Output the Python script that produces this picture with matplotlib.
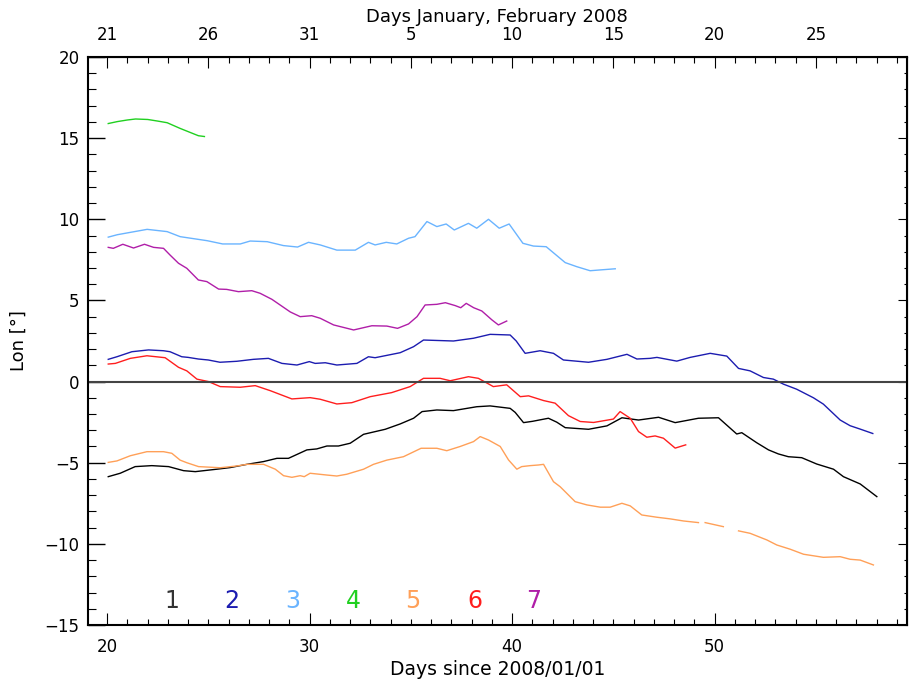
import numpy as np
import matplotlib
matplotlib.use("Agg")
import matplotlib.pyplot as plt
from matplotlib.ticker import MultipleLocator

nan = np.nan

# --- data (day since 2008/01/01, longitude in degrees) ---
x1 = [20.05, 20.64, 21.38, 22.2, 23.03, 23.77, 24.35, 25.41, 26.07, 26.9, 27.72, 28.38,
      28.95, 29.86, 30.35, 30.85, 31.42, 32.0, 32.66, 33.73, 34.47, 35.13, 35.55, 36.28,
      37.1, 38.25, 38.91, 39.9, 40.15, 40.56, 41.0, 41.79, 42.2, 42.62, 43.77, 44.68,
      45.42, 46.24, 47.23, 48.05, 49.2, 50.19, 51.09, 51.34, 52.08, 52.66, 53.15, 53.64,
      54.3, 55.04, 55.87, 56.36, 57.19, 58.01]
y1 = [-5.86, -5.65, -5.24, -5.18, -5.24, -5.49, -5.55, -5.4, -5.3, -5.1, -4.93, -4.73,
      -4.73, -4.21, -4.15, -3.97, -3.97, -3.8, -3.25, -2.94, -2.61, -2.26, -1.85, -1.75,
      -1.79, -1.55, -1.5, -1.65, -1.9, -2.53, -2.45, -2.26, -2.5, -2.84, -2.94, -2.73,
      -2.23, -2.37, -2.2, -2.53, -2.26, -2.23, -3.23, -3.15, -3.77, -4.21, -4.46, -4.63,
      -4.69, -5.08, -5.4, -5.86, -6.31, -7.09]

x2 = [20.05, 20.48, 21.22, 22.04, 22.78, 23.1, 23.68, 24.0, 24.5, 24.99, 25.57, 26.4,
      27.22, 27.96, 28.63, 29.37, 29.98, 30.27, 30.77, 31.34, 32.33, 32.9, 33.23, 34.47,
      35.13, 35.62, 37.1, 38.09, 38.91, 39.9, 40.2, 40.64, 41.38, 42.04, 42.53, 43.77,
      44.68, 45.67, 46.16, 46.81, 47.15, 48.13, 48.79, 49.78, 50.6, 51.18, 51.75, 52.41,
      52.9, 53.4, 54.05, 54.88, 55.37, 56.2, 56.69, 57.19, 57.81]
y2 = [1.37, 1.53, 1.84, 1.95, 1.9, 1.84, 1.53, 1.49, 1.39, 1.33, 1.19, 1.25,
      1.37, 1.43, 1.12, 1.02, 1.23, 1.12, 1.16, 1.02, 1.12, 1.53, 1.47, 1.78,
      2.15, 2.56, 2.5, 2.67, 2.91, 2.87, 2.5, 1.74, 1.9, 1.74, 1.33, 1.19,
      1.37, 1.68, 1.39, 1.43, 1.49, 1.26, 1.49, 1.74, 1.57, 0.81, 0.66, 0.25,
      0.15, -0.16, -0.47, -1.0, -1.39, -2.37, -2.72, -2.93, -3.2]

x3 = [20.05, 20.5, 21.97, 22.96, 23.6, 24.94, 25.7, 26.57, 27.06, 27.9, 28.7, 29.4,
      29.94, 30.52, 31.34, 32.25, 32.9, 33.23, 33.78, 34.3, 34.88, 35.2, 35.79, 36.28,
      36.74, 37.14, 37.84, 38.25, 38.83, 39.36, 39.85, 40.53, 41.05, 41.68, 42.62,
      43.19, 43.85, 44.35, 45.09]
y3 = [8.9, 9.05, 9.38, 9.24, 8.93, 8.68, 8.48, 8.48, 8.66, 8.62, 8.38, 8.29,
      8.58, 8.42, 8.1, 8.1, 8.58, 8.42, 8.58, 8.48, 8.83, 8.93, 9.86, 9.55,
      9.71, 9.34, 9.75, 9.45, 10.0, 9.45, 9.71, 8.52, 8.35, 8.31, 7.33,
      7.08, 6.83, 6.88, 6.95]

x4 = [20.05, 20.5, 21.0, 21.4, 22.0, 22.5, 22.96, 23.6, 24.0, 24.5, 24.8]
y4 = [15.9, 16.02, 16.12, 16.18, 16.15, 16.05, 15.95, 15.6, 15.4, 15.15, 15.1]

x5 = [20.05, 20.48, 21.14, 21.96, 22.78, 23.19, 23.6, 23.93, 24.51, 25.58, 26.4, 26.9,
      27.72, 28.3, 28.71, 29.12, 29.53, 29.73, 30.02, 30.85, 31.34, 31.83, 32.66, 33.15,
      33.81, 34.63, 35.5, 36.28, 36.77, 37.43, 38.09, 38.42, 38.83, 39.41, 39.82, 40.23,
      40.47, 40.89, 41.3, 41.55, 42.04, 42.37, 43.11, 43.69, 44.35, 44.84, 45.42, 45.83,
      46.4, 47.15, 47.8, 48.46, 49.2, nan, 49.53, 50.43, nan, 51.18, 51.75, 52.58,
      53.07, 53.73, 54.39, 55.37, 56.2, 56.69, 57.19, 57.84]
y5 = [-4.98, -4.89, -4.57, -4.32, -4.32, -4.42, -4.84, -5.0, -5.24, -5.31, -5.2, -5.1,
      -5.1, -5.4, -5.8, -5.9, -5.8, -5.86, -5.65, -5.76, -5.82, -5.71, -5.4, -5.1,
      -4.84, -4.63, -4.11, -4.11, -4.26, -4.0, -3.7, -3.39, -3.6, -4.0, -4.83, -5.4,
      -5.24, -5.18, -5.14, -5.1, -6.17, -6.48, -7.4, -7.6, -7.74, -7.74, -7.5, -7.66,
      -8.22, -8.36, -8.46, -8.59, -8.69, nan, -8.69, -8.94, nan, -9.2, -9.35, -9.76,
      -10.07, -10.33, -10.64, -10.83, -10.79, -10.95, -11.0, -11.3]

x6 = [20.05, 20.4, 21.14, 21.96, 22.86, 23.52, 23.93, 24.43, 25.0, 25.58, 26.57, 27.31,
      28.05, 29.12, 30.02, 30.52, 31.34, 32.08, 32.99, 34.05, 34.96, 35.62, 36.44, 36.94,
      37.84, 38.33, 39.07, 39.73, 40.4, 40.81, 41.55, 42.12, 42.78, 43.36, 44.02, 45.0,
      45.33, 45.83, 46.24, 46.65, 47.06, 47.47, 48.05, 48.57]
y6 = [1.08, 1.12, 1.43, 1.59, 1.47, 0.88, 0.66, 0.15, 0.0, -0.31, -0.35, -0.25,
      -0.56, -1.07, -0.99, -1.09, -1.38, -1.3, -0.93, -0.68, -0.31, 0.2, 0.2, 0.05,
      0.3, 0.2, -0.31, -0.2, -0.93, -0.88, -1.17, -1.33, -2.1, -2.46, -2.52, -2.31,
      -1.85, -2.26, -3.08, -3.43, -3.35, -3.49, -4.1, -3.9]

x7 = [20.05, 20.3, 20.77, 21.3, 21.84, 22.29, 22.78, 23.1, 23.52, 23.93, 24.5, 24.92,
      25.5, 25.9, 26.48, 27.14, 27.55, 28.13, 29.04, 29.53, 30.1, 30.52, 31.18, 32.17,
      33.07, 33.81, 34.34, 34.88, 35.3, 35.7, 36.28, 36.7, 37.19, 37.46, 37.73, 38.1,
      38.5, 39.0, 39.32, 39.49, 39.73]
y7 = [8.27, 8.21, 8.46, 8.23, 8.46, 8.27, 8.21, 7.8, 7.29, 6.98, 6.26, 6.16,
      5.7, 5.68, 5.54, 5.6, 5.44, 5.07, 4.29, 4.0, 4.06, 3.9, 3.49, 3.18,
      3.44, 3.42, 3.28, 3.55, 4.0, 4.72, 4.76, 4.86, 4.68, 4.55, 4.82, 4.55,
      4.35, 3.8, 3.49, 3.59, 3.73]

series_x = [x1, x2, x3, x4, x5, x6, x7]
series_y = [y1, y2, y3, y4, y5, y6, y7]
labels = ["1", "2", "3", "4", "5", "6", "7"]
colors = ["#000000", "#1c1cb0", "#6ab4ff", "#20d020", "#ffa058", "#ff1e1e", "#b01ea8"]
label_x = [23.2, 26.15, 29.15, 32.15, 35.1, 38.15, 41.05]
label_y = -13.5

top_ticks = [20, 25, 30, 35, 40, 45, 50, 55]
top_labels = ["21", "26", "31", "5", "10", "15", "20", "25"]

plt.rcParams["font.family"] = "DejaVu Sans"
plt.rcParams["font.size"] = 12

fig = plt.figure(figsize=(9.09, 6.84), dpi=100)
ax = fig.add_axes([88 / 909, 59 / 684, 819 / 909, 568 / 684])

for xs, ys, c in zip(series_x, series_y, colors):
    ax.plot(xs, ys, color=c, lw=1.0)

ax.axhline(0, color="#444444", lw=1.5)

for lx, lab, c in zip(label_x, labels, colors):
    tc = "#333333" if lab == "1" else c
    ax.text(lx, label_y, lab, color=tc, fontsize=17, ha="center", va="center")

ax.set_xlim(19.05, 59.5)
ax.set_ylim(-15, 20)
ax.xaxis.set_major_locator(MultipleLocator(10))
ax.xaxis.set_minor_locator(MultipleLocator(1))
ax.yaxis.set_major_locator(MultipleLocator(5))
ax.yaxis.set_minor_locator(MultipleLocator(1))

ax.tick_params(axis="x", which="major", direction="in", length=8.6, width=0.8, pad=9,
               top=False)
ax.tick_params(axis="x", which="minor", direction="in", length=4.3, width=0.8, top=False)
ax.tick_params(axis="y", which="major", direction="in", length=12, width=1.0, pad=6,
               right=False)
ax.tick_params(axis="y", which="minor", direction="in", length=6, width=0.8, right=False)
for sp in ax.spines.values():
    sp.set_linewidth(1.5)

ax.set_xlabel("Days since 2008/01/01", fontsize=13.5, labelpad=3)
ax.set_ylabel("Lon [°]", fontsize=13, labelpad=12)

top = ax.secondary_xaxis("top")
top.set_xticks(top_ticks)
top.set_xticklabels(top_labels)
top.xaxis.set_minor_locator(MultipleLocator(1))
top.tick_params(which="major", direction="in", length=8, width=0.8, pad=9.5)
top.tick_params(which="minor", direction="in", length=4.3, width=0.8)
fig.text(497 / 909, 1 - 17 / 684, "Days January, February 2008", fontsize=13,
         ha="center", va="center")

right = ax.secondary_yaxis("right")
right.yaxis.set_major_locator(MultipleLocator(5))
right.yaxis.set_minor_locator(MultipleLocator(1))
right.tick_params(which="major", direction="in", length=6.5, width=0.8, labelright=False)
right.tick_params(which="minor", direction="in", length=2, width=0.8)

fig.savefig("out.png", dpi=100)
